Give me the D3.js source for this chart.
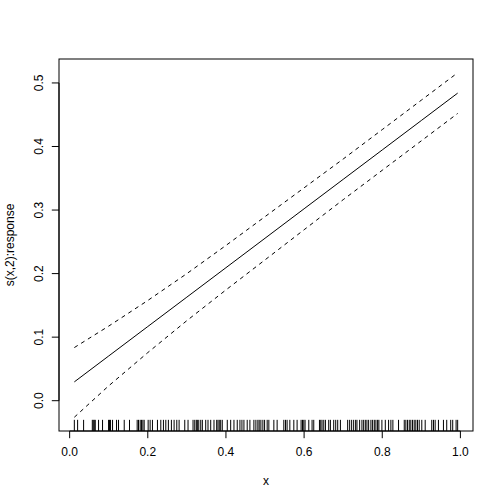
<!DOCTYPE html>
<html>
<head>
<meta charset="utf-8">
<script src="https://cdn.jsdelivr.net/npm/d3@7"></script>
<style>
  body { margin: 0; background: #fff; }
  svg { display: block; }
  text { font-family: "Liberation Sans", Arial, Helvetica, sans-serif; font-size: 12px; fill: #000; }
</style>
</head>
<body>
<svg></svg>
<script>
// observed x values (rug)
var rugX = [
  0.012, 0.0204, 0.0357, 0.0580, 0.0605, 0.0631, 0.0656, 0.0740, 0.0842, 0.0996,
  0.1021, 0.1047, 0.1098, 0.1200, 0.1251, 0.1397, 0.1532, 0.1728, 0.1762, 0.1805,
  0.1838, 0.1874, 0.1907, 0.2009, 0.2060, 0.2119, 0.2247, 0.2333, 0.2400,
  0.2461, 0.2527, 0.2604, 0.2673, 0.2742, 0.2801, 0.2946, 0.3030, 0.3158, 0.3202,
  0.3242, 0.3268, 0.3304, 0.3355, 0.3396, 0.3482, 0.3541, 0.3610, 0.3694, 0.3763,
  0.3796, 0.3829, 0.3865, 0.3906, 0.4034, 0.4121, 0.4205, 0.4289, 0.4358, 0.4409,
  0.4460, 0.4544, 0.4613, 0.4715, 0.4766, 0.4817, 0.4851, 0.4894, 0.4945, 0.4989,
  0.5055, 0.5098, 0.5226, 0.5310, 0.5481, 0.5525, 0.5565, 0.5635, 0.5737, 0.5821,
  0.5923, 0.5959, 0.5992, 0.6025, 0.6120, 0.6204, 0.6247, 0.6393, 0.6426, 0.6459,
  0.6503, 0.6546, 0.6630, 0.6673, 0.6758, 0.6809, 0.6860, 0.6929, 0.7115, 0.7166,
  0.7217, 0.7268, 0.7319, 0.7353, 0.7421, 0.7480, 0.7524,
  0.7567, 0.7608, 0.7651, 0.7710, 0.7753, 0.7797, 0.7838, 0.7881, 0.7914, 0.7991,
  0.8078, 0.8162, 0.8221, 0.8272, 0.8417, 0.8563, 0.8604, 0.8647, 0.8691, 0.8731,
  0.8775, 0.8818, 0.8859, 0.8902, 0.8946, 0.9012, 0.9099, 0.9267, 0.9311, 0.9354,
  0.9438, 0.9566, 0.9650, 0.9752, 0.9803, 0.9890, 0.993
];

// smooth term and its +/- 2 se band
var fitX   = [0.012, 0.1, 0.2, 0.3, 0.4, 0.5, 0.6, 0.7, 0.8, 0.9, 0.993];
var fitY   = [0.0296, 0.0704, 0.1167, 0.1630, 0.2093, 0.2556, 0.3020, 0.3483, 0.3946, 0.4409, 0.4840];
var upperY = [0.0836, 0.1174, 0.1577, 0.2000, 0.2443, 0.2896, 0.3350, 0.3803, 0.4266, 0.4729, 0.5160];
var lowerY = [-0.0260, 0.0234, 0.0757, 0.1260, 0.1743, 0.2216, 0.2690, 0.3163, 0.3626, 0.4089, 0.4520];

var xTicks = [0, 0.2, 0.4, 0.6, 0.8, 1.0];
var yTicks = [0, 0.1, 0.2, 0.3, 0.4, 0.5];
var xLabel = "x";
var yLabel = "s(x,2):response";

var svgWidth = 504, svgHeight = 504;
var margin = { top: 59, right: 31, bottom: 73, left: 59 };
var width = svgWidth - margin.left - margin.right;
var height = svgHeight - margin.top - margin.bottom;
var lineH = 14.4;

var svg = d3.select("svg")
  .attr("width", svgWidth)
  .attr("height", svgHeight);

var g = svg.append("g")
  .attr("transform", "translate(" + margin.left + "," + margin.top + ")");

// R-style 4% padding on each side
function padded(ext) {
  var r = ext[1] - ext[0];
  return [ext[0] - 0.04 * r, ext[1] + 0.04 * r];
}

var x = d3.scaleLinear().domain(padded(d3.extent(rugX))).range([0, width]);
var y = d3.scaleLinear().domain(padded([d3.min(lowerY), d3.max(upperY)])).range([height, 0]);

var pts = fitX.map(function (d, i) {
  return { x: d, fit: fitY[i], up: upperY[i], lo: lowerY[i] };
});

function curve(key) {
  return d3.line()
    .x(function (d) { return x(d.x); })
    .y(function (d) { return y(d[key]); });
}

g.append("path")
  .datum(pts)
  .attr("fill", "none")
  .attr("stroke", "#000")
  .attr("stroke-width", 1)
  .attr("d", curve("fit"));

["up", "lo"].forEach(function (k) {
  g.append("path")
    .datum(pts)
    .attr("fill", "none")
    .attr("stroke", "#000")
    .attr("stroke-width", 1)
    .attr("stroke-dasharray", "4,4")
    .attr("d", curve(k));
});

// rug
var rugLen = 0.03 * height;
g.append("g").selectAll("line")
  .data(rugX)
  .enter().append("line")
  .attr("x1", function (d) { return x(d); })
  .attr("x2", function (d) { return x(d); })
  .attr("y1", height)
  .attr("y2", height - rugLen)
  .attr("stroke", "#000")
  .attr("stroke-width", 1);

// box
g.append("rect")
  .attr("x", 0).attr("y", 0)
  .attr("width", width).attr("height", height)
  .attr("fill", "none")
  .attr("stroke", "#000")
  .attr("stroke-width", 1);

// x axis
var xAxis = g.append("g").attr("transform", "translate(0," + height + ")");
xAxis.append("line")
  .attr("x1", x(xTicks[0])).attr("x2", x(xTicks[xTicks.length - 1]))
  .attr("stroke", "#000");
xAxis.selectAll(".tk").data(xTicks).enter().append("line")
  .attr("x1", function (d) { return x(d); })
  .attr("x2", function (d) { return x(d); })
  .attr("y1", 0).attr("y2", lineH / 2)
  .attr("stroke", "#000");
xAxis.selectAll("text").data(xTicks).enter().append("text")
  .attr("x", function (d) { return x(d); })
  .attr("y", 24.5)
  .attr("text-anchor", "middle")
  .text(function (d) { return d3.format(".1f")(d); });

// y axis
var yAxis = g.append("g");
yAxis.append("line")
  .attr("y1", y(yTicks[0])).attr("y2", y(yTicks[yTicks.length - 1]))
  .attr("stroke", "#000");
yAxis.selectAll(".tk").data(yTicks).enter().append("line")
  .attr("y1", function (d) { return y(d); })
  .attr("y2", function (d) { return y(d); })
  .attr("x1", 0).attr("x2", -lineH / 2)
  .attr("stroke", "#000");
yAxis.selectAll("text").data(yTicks).enter().append("text")
  .attr("transform", function (d) { return "translate(-16.5," + y(d) + ") rotate(-90)"; })
  .attr("text-anchor", "middle")
  .text(function (d) { return d3.format(".1f")(d); });

// titles
svg.append("text")
  .attr("x", margin.left + width / 2)
  .attr("y", margin.top + height + 53.5)
  .attr("text-anchor", "middle")
  .text(xLabel);

svg.append("text")
  .attr("transform", "translate(14," + (margin.top + height / 2) + ") rotate(-90)")
  .attr("text-anchor", "middle")
  .text(yLabel);
</script>
</body>
</html>
